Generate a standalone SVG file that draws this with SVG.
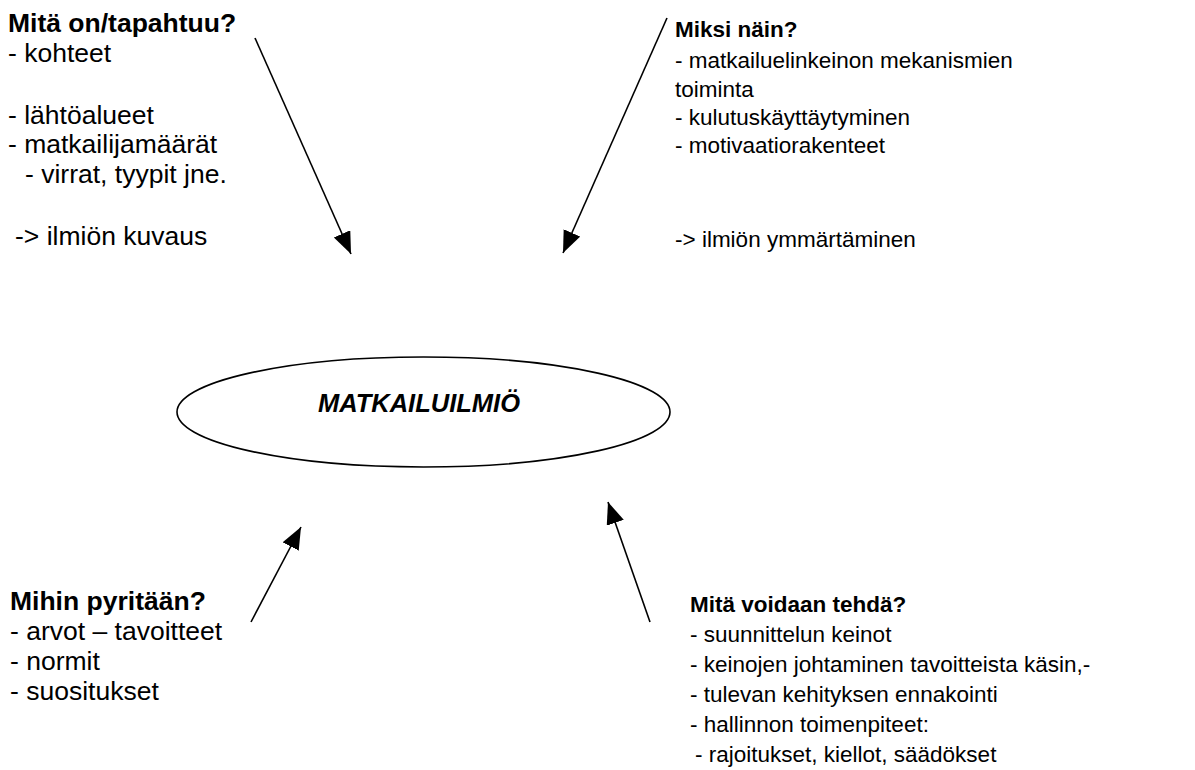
<svg xmlns="http://www.w3.org/2000/svg" width="1195" height="770" viewBox="0 0 1195 770">
<style>
text{font-family:"Liberation Sans",Arial,sans-serif;fill:#000}
.l{font-size:26.5px}
.r{font-size:22.5px}
.b{font-weight:bold}
.c{stroke:#000;stroke-width:1.6;fill:none}
</style>
<defs>
<marker id="ah" markerUnits="userSpaceOnUse" markerWidth="24" markerHeight="20" refX="22" refY="9" orient="auto">
<path d="M0,0 L22,9 L0,18 Z" fill="#000"/>
</marker>
</defs>
<rect width="1195" height="770" fill="#fff"/>
<g id="center">
<ellipse cx="423.5" cy="412" rx="246.5" ry="55" fill="none" stroke="#000" stroke-width="1.6"/>
<text x="419" y="412" text-anchor="middle" font-size="25.5" font-weight="bold" font-style="italic">MATKAILUILMIÖ</text>
</g>
<g id="top-left">
<text class="l b" x="8" y="32">Mitä on/tapahtuu?</text>
<text class="l" x="8" y="62">- kohteet</text>
<text class="l" x="8" y="124">- lähtöalueet</text>
<text class="l" x="8" y="153">- matkailijamäärät</text>
<text class="l" x="25" y="183">- virrat, tyypit jne.</text>
<text class="l" x="15" y="245">-&gt; ilmiön kuvaus</text>
</g>
<g id="top-right">
<text class="r b" x="675" y="37">Miksi näin?</text>
<text class="r" x="675" y="68">- matkailuelinkeinon mekanismien</text>
<text class="r" x="675" y="97">toiminta</text>
<text class="r" x="675" y="125">- kulutuskäyttäytyminen</text>
<text class="r" x="675" y="153">- motivaatiorakenteet</text>
<text class="r" x="675" y="247">-&gt; ilmiön ymmärtäminen</text>
</g>
<g id="bottom-left">
<text class="l b" x="10" y="610">Mihin pyritään?</text>
<text class="l" x="10" y="640">- arvot – tavoitteet</text>
<text class="l" x="10" y="670">- normit</text>
<text class="l" x="10" y="700">- suositukset</text>
</g>
<g id="bottom-right">
<text class="r b" x="690" y="612">Mitä voidaan tehdä?</text>
<text class="r" x="690" y="642">- suunnittelun keinot</text>
<text class="r" x="690" y="672">- keinojen johtaminen tavoitteista käsin,-</text>
<text class="r" x="690" y="702">- tulevan kehityksen ennakointi</text>
<text class="r" x="690" y="732">- hallinnon toimenpiteet:</text>
<text class="r" x="695" y="762">- rajoitukset, kiellot, säädökset</text>
</g>
<g id="connectors">
<line class="c" x1="255" y1="38" x2="351" y2="254" marker-end="url(#ah)"/>
<line class="c" x1="667" y1="18" x2="563" y2="253" marker-end="url(#ah)"/>
<line class="c" x1="251" y1="622" x2="301" y2="527" marker-end="url(#ah)"/>
<line class="c" x1="650" y1="622" x2="608" y2="502" marker-end="url(#ah)"/>
</g>
</svg>
